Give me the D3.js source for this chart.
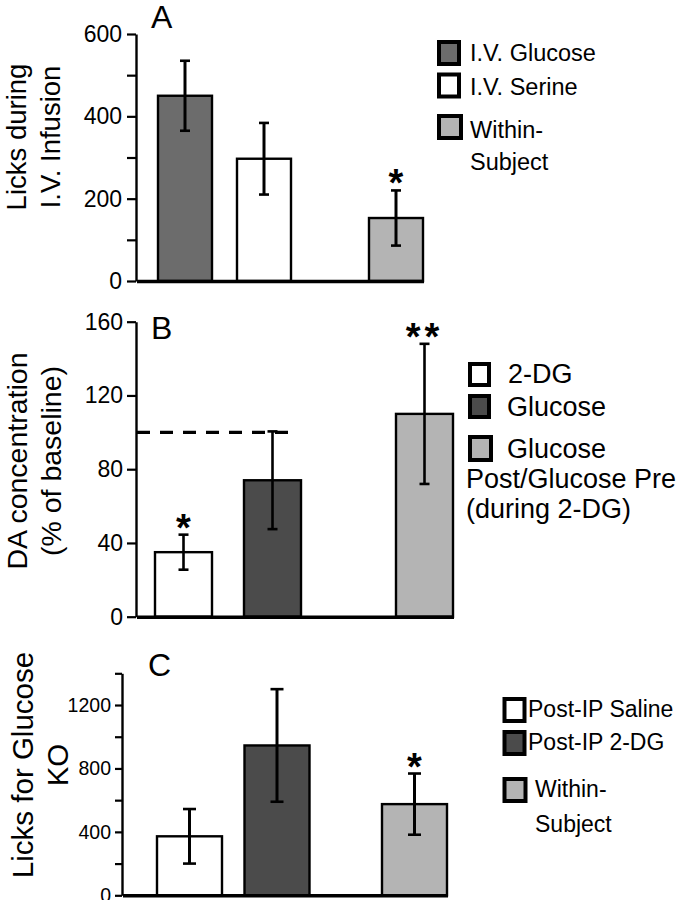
<!DOCTYPE html>
<html>
<head>
<meta charset="utf-8">
<script src="https://cdn.jsdelivr.net/npm/d3@7"></script>
<style>
  html, body { margin: 0; padding: 0; background: #fff; }
  svg { display: block; }
  text { font-family: "Liberation Sans", Arial, Helvetica, sans-serif; fill: #000; }
</style>
</head>
<body>
<svg id="chart" width="676" height="900"></svg>
<script>
// ---------------- DATA ----------------
const panelA_categories = ["I.V. Glucose", "I.V. Serine", "Within-Subject"];
const panelA_values = [450, 297, 153];
const panelA_errors = [85, 87, 67];
const panelA_stars = ["", "", "*"];
const panelA_legend = [["I.V. Glucose"], ["I.V. Serine"], ["Within-", "Subject"]];
const panelA_ticks = [0, 100, 200, 300, 400, 500, 600];
const panelA_tickLabels = ["0", "", "200", "", "400", "", "600"];
const panelA_title = ["Licks during", "I.V. Infusion"];

const panelB_categories = ["2-DG", "Glucose", "Glucose Post/Glucose Pre (during 2-DG)"];
const panelB_values = [35, 74, 110];
const panelB_errors = [9.5, 26.5, 38];
const panelB_stars = ["*", "", "**"];
const panelB_legend = [["2-DG"], ["Glucose"], ["Glucose", "Post/Glucose Pre", "(during 2-DG)"]];
const panelB_ticks = [0, 40, 80, 120, 160];
const panelB_tickLabels = ["0", "40", "80", "120", "160"];
const panelB_title = ["DA concentration", "(% of baseline)"];
const panelB_baseline = 100;

const panelC_categories = ["Post-IP Saline", "Post-IP 2-DG", "Within-Subject"];
const panelC_values = [372, 945, 575];
const panelC_errors = [172, 355, 193];
const panelC_stars = ["", "", "*"];
const panelC_legend = [["Post-IP Saline"], ["Post-IP 2-DG"], ["Within-", "Subject"]];
const panelC_ticks = [0, 200, 400, 600, 800, 1000, 1200, 1400];
const panelC_tickLabels = ["0", "", "400", "", "800", "", "1200", ""];
const panelC_title = ["Licks for Glucose", "KO"];

const DARK_A = "#6c6c6c", DARK = "#4b4b4b", LIGHT = "#b4b4b4", WHITE = "#ffffff";

// ---------------- LAYOUT ----------------
const svg = d3.select("#chart");

function drawPanel(cfg) {
  const g = svg.append("g");
  const y = d3.scaleLinear().domain([0, cfg.ymax]).range([cfg.y0, cfg.y1]);
  const x = d3.scaleBand().domain(cfg.categories)
    .range([cfg.left, cfg.left + 2 * cfg.step + cfg.barW])
    .paddingInner(1 - cfg.barW / cfg.step).paddingOuter(0);
  const bx = (c, i) => x(c) + (i === 2 ? cfg.gap : 0);

  // y axis
  const axis = d3.axisLeft(y).tickValues(cfg.ticks)
    .tickFormat((d, i) => cfg.tickLabels[i])
    .tickSize(cfg.tickLen).tickSizeOuter(0).tickPadding(cfg.tickPad);
  const ax = g.append("g").attr("transform", `translate(${cfg.axisX},0)`).call(axis);
  ax.select(".domain").attr("stroke", "#000").attr("stroke-width", 2.4);
  ax.selectAll(".tick line").attr("stroke", "#000").attr("stroke-width", 2.2);
  ax.selectAll(".tick text").attr("font-size", cfg.tickFont)
    .attr("font-family", "'Liberation Sans', Arial, sans-serif")
    .style("fill", "#000");

  // bars
  const data = cfg.categories.map((c, i) => ({ c, i, v: cfg.values[i], e: cfg.errors[i], s: cfg.stars[i], f: cfg.fills[i] }));
  g.selectAll("rect.bar").data(data).enter().append("rect")
    .attr("class", "bar")
    .attr("x", d => bx(d.c, d.i))
    .attr("y", d => y(d.v))
    .attr("width", x.bandwidth())
    .attr("height", d => y(0) - y(d.v))
    .attr("fill", d => d.f)
    .attr("stroke", "#000").attr("stroke-width", 2.4);

  // x axis line
  g.append("line")
    .attr("x1", cfg.axisX + 1).attr("x2", bx(cfg.categories[2], 2) + x.bandwidth() + 1)
    .attr("y1", y(0) + 0.5).attr("y2", y(0) + 0.5)
    .attr("stroke", "#000").attr("stroke-width", 3.4);

  // baseline dashed
  if (cfg.dashed != null) {
    g.append("line")
      .attr("x1", cfg.axisX + 1).attr("x2", bx(cfg.categories[1], 1) + x.bandwidth() * 0.9)
      .attr("y1", y(cfg.dashed)).attr("y2", y(cfg.dashed))
      .attr("stroke", "#000").attr("stroke-width", 3.4)
      .attr("stroke-dasharray", "13,10");
  }

  // error bars
  const eb = g.selectAll("g.err").data(data).enter().append("g").attr("class", "err");
  const cx = d => bx(d.c, d.i) + x.bandwidth() / 2;
  eb.append("line").attr("x1", cx).attr("x2", cx)
    .attr("y1", d => y(d.v + d.e)).attr("y2", d => y(d.v - d.e))
    .attr("stroke", "#000").attr("stroke-width", cfg.errW);
  eb.append("line").attr("x1", d => cx(d) - cfg.cap / 2).attr("x2", d => cx(d) + cfg.cap / 2)
    .attr("y1", d => y(d.v + d.e)).attr("y2", d => y(d.v + d.e))
    .attr("stroke", "#000").attr("stroke-width", 2.6);
  eb.append("line").attr("x1", d => cx(d) - cfg.cap / 2).attr("x2", d => cx(d) + cfg.cap / 2)
    .attr("y1", d => y(d.v - d.e)).attr("y2", d => y(d.v - d.e))
    .attr("stroke", "#000").attr("stroke-width", 2.6);

  // stars
  g.selectAll("text.star").data(data.filter(d => d.s)).enter().append("text")
    .attr("class", "star")
    .attr("x", cx).attr("y", d => y(d.v + d.e) + cfg.starOff)
    .attr("text-anchor", "middle")
    .attr("font-size", 38).attr("font-weight", "bold")
    .attr("letter-spacing", d => d.s.length > 1 ? 4 : 0)
    .text(d => d.s);

  // panel letter
  g.append("text").attr("x", cfg.letterX).attr("y", cfg.letterY)
    .attr("font-size", 32).text(cfg.letter);

  // y title
  const t = g.append("text").attr("font-size", cfg.titleFont).attr("text-anchor", "middle")
    .attr("transform", `rotate(-90)`);
  cfg.title.forEach((line, i) => {
    t.append("tspan").attr("x", -cfg.titleY).attr("y", cfg.titleX[i]).text(line);
  });

  // legend
  const lg = g.append("g");
  cfg.legend.forEach((lines, i) => {
    const L = cfg.leg[i];
    lg.append("rect").attr("x", L.bx + 2).attr("y", L.by + 2)
      .attr("width", L.bw - 4).attr("height", L.bh - 4)
      .attr("fill", cfg.fills[i]).attr("stroke", "#000").attr("stroke-width", 4);
    lines.forEach((ln, j) => {
      lg.append("text").attr("x", j === 0 ? L.tx : L.tx2).attr("y", L.ty + j * cfg.legLine)
        .attr("font-size", cfg.legFont).text(ln);
    });
  });
}

// Panel A
drawPanel({
  categories: panelA_categories, values: panelA_values, errors: panelA_errors, stars: panelA_stars,
  fills: [DARK_A, WHITE, LIGHT], legend: panelA_legend,
  ticks: panelA_ticks, tickLabels: panelA_tickLabels, title: panelA_title,
  ymax: 600, y0: 281, y1: 34, axisX: 136, tickLen: 9, tickPad: 5, tickFont: 23,
  left: 158, step: 79, barW: 54, gap: 53, errW: 3, cap: 10, starOff: 6,
  letter: "A", letterX: 151, letterY: 28,
  titleFont: 27.5, titleX: [25.5, 59.5], titleY: 137,
  legFont: 23.5, legLine: 32,
  leg: [
    { bx: 437, by: 40, bw: 24, bh: 26, tx: 470, tx2: 470, ty: 61 },
    { bx: 437, by: 72.5, bw: 24, bh: 26, tx: 470, tx2: 470, ty: 95 },
    { bx: 437, by: 114, bw: 26, bh: 26, tx: 470, tx2: 470, ty: 138 }
  ]
});

// Panel B
drawPanel({
  categories: panelB_categories, values: panelB_values, errors: panelB_errors, stars: panelB_stars,
  fills: [WHITE, DARK, LIGHT], legend: panelB_legend,
  ticks: panelB_ticks, tickLabels: panelB_tickLabels, title: panelB_title,
  ymax: 160, y0: 616.7, y1: 321.7, axisX: 136, tickLen: 9, tickPad: 4, tickFont: 23,
  left: 155, step: 89, barW: 57, gap: 63, errW: 2.6, cap: 10, starOff: 6,
  dashed: panelB_baseline,
  letter: "B", letterX: 151, letterY: 339,
  titleFont: 28.5, titleX: [26.5, 61], titleY: 461,
  legFont: 27, legLine: 30,
  leg: [
    { bx: 468, by: 362, bw: 23, bh: 25, tx: 508, tx2: 508, ty: 383 },
    { bx: 468, by: 394, bw: 23, bh: 25, tx: 507, tx2: 507, ty: 416 },
    { bx: 468, by: 435, bw: 25, bh: 27, tx: 507, tx2: 466, ty: 458 }
  ]
});

// Panel C
drawPanel({
  categories: panelC_categories, values: panelC_values, errors: panelC_errors, stars: panelC_stars,
  fills: [WHITE, DARK, LIGHT], legend: panelC_legend,
  ticks: panelC_ticks, tickLabels: panelC_tickLabels, title: panelC_title,
  ymax: 1400, y0: 895.3, y1: 673.3, axisX: 122, tickLen: 7, tickPad: 4, tickFont: 19.5,
  left: 157, step: 87.5, barW: 65, gap: 50, errW: 3, cap: 13, starOff: 6,
  letter: "C", letterX: 148, letterY: 676,
  titleFont: 29.5, titleX: [33, 68], titleY: 765,
  legFont: 23, legLine: 35,
  leg: [
    { bx: 502.5, by: 697, bw: 24, bh: 26, tx: 528, tx2: 528, ty: 717 },
    { bx: 502.5, by: 730, bw: 24, bh: 26, tx: 528, tx2: 528, ty: 750 },
    { bx: 502.5, by: 777, bw: 25, bh: 26, tx: 535, tx2: 535, ty: 797 }
  ]
});
</script>
</body>
</html>
